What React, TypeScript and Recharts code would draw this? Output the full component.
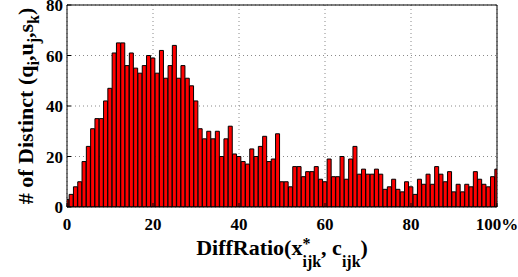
import React from 'react';
import { BarChart, Bar, XAxis, YAxis, CartesianGrid } from 'recharts';

const diffRatioBins = [
  0, 1, 2, 3, 4, 5, 6, 7, 8, 9, 10, 11, 12, 13, 14, 15, 16, 17, 18, 19,
  20, 21, 22, 23, 24, 25, 26, 27, 28, 29, 30, 31, 32, 33, 34, 35, 36, 37, 38, 39,
  40, 41, 42, 43, 44, 45, 46, 47, 48, 49, 50, 51, 52, 53, 54, 55, 56, 57, 58, 59,
  60, 61, 62, 63, 64, 65, 66, 67, 68, 69, 70, 71, 72, 73, 74, 75, 76, 77, 78, 79,
  80, 81, 82, 83, 84, 85, 86, 87, 88, 89, 90, 91, 92, 93, 94, 95, 96, 97, 98, 99, 100,
];

const distinctCounts = [
  3, 5, 8, 10, 18, 24, 31, 35, 35, 42, 47, 61, 65, 65, 56, 61, 55, 53, 56, 60,
  59, 53, 62, 51, 56, 64, 51, 56, 51, 48, 42, 31, 27, 30, 27, 30, 20, 27, 32, 21,
  20, 18, 17, 23, 20, 24, 28, 18, 19, 29, 10, 10, 8, 16, 16, 12, 14, 14, 16, 11,
  10, 19, 12, 12, 20, 11, 19, 24, 13, 15, 13, 13, 15, 13, 7, 8, 11, 7, 6, 10,
  8, 5, 11, 9, 13, 9, 16, 13, 10, 14, 6, 9, 6, 9, 8, 14, 11, 9, 8, 12, 15,
];

const xTicks = [0, 20, 40, 60, 80, 100];
const yTicks = [0, 20, 40, 60, 80];

const data = diffRatioBins.map((x, i) => ({ x, count: distinctCounts[i] }));

const FONT = '"Liberation Serif", "Times New Roman", Times, serif';

function XTitle(props: any) {
  const vb = props.viewBox || { x: 67, y: 207, width: 430, height: 70 };
  const cx = vb.x + vb.width / 2;
  const by = vb.y + 48;
  return (
    <text x={cx} y={by} textAnchor="middle" fontFamily={FONT} fontWeight="bold" fontSize={22} fill="#000">
      <tspan>DiffRatio(x</tspan>
      <tspan fontSize={16} dy={-6}>*</tspan>
      <tspan fontSize={16} dx={-8} dy={18}>ijk</tspan>
      <tspan dy={-12}>, c</tspan>
      <tspan fontSize={16} dy={12}>ijk</tspan>
      <tspan dy={-12}>)</tspan>
    </text>
  );
}

function YTitle(props: any) {
  const vb = props.viewBox || { x: 7, y: 5, width: 60, height: 202 };
  const cx = vb.x + 26;
  const cy = vb.y + vb.height / 2;
  return (
    <text
      x={cx}
      y={cy}
      transform={`rotate(-90 ${cx} ${cy})`}
      textAnchor="middle"
      fontFamily={FONT}
      fontWeight="bold"
      fontSize={22}
      fill="#000"
    >
      <tspan># of Distinct (q</tspan>
      <tspan fontSize={16} dy={6}>i</tspan>
      <tspan dy={-6}>,u</tspan>
      <tspan fontSize={16} dy={6}>j</tspan>
      <tspan dy={-6}>,s</tspan>
      <tspan fontSize={16} dy={6}>k</tspan>
      <tspan dy={-6}>)</tspan>
    </text>
  );
}

const tickStyle = { fill: '#000', fontSize: 17, fontWeight: 'bold', fontFamily: FONT };

export default function App() {
  return (
    <div style={{ position: 'absolute', left: 0, top: 0, width: 518, height: 277, background: '#fff' }}>
      <BarChart
        width={518}
        height={277}
        data={data}
        margin={{ top: 4, right: 20, bottom: 0, left: 7 }}
        barCategoryGap={0}
        barGap={0}
      >
        <CartesianGrid stroke="#8a8a8a" strokeDasharray="1 3" />
        <XAxis
          dataKey="x"
          type="number"
          domain={[0, 100]}
          ticks={xTicks}
          interval={0}
          allowDataOverflow
          height={70}
          tickSize={-4}
          tickMargin={15}
          stroke="#000"
          tick={tickStyle}
          tickFormatter={(v: number) => (v === 100 ? '100%' : String(v))}
          label={<XTitle />}
        />
        <XAxis
          xAxisId="top"
          orientation="top"
          dataKey="x"
          type="number"
          domain={[0, 100]}
          ticks={xTicks}
          interval={0}
          allowDataOverflow
          height={1}
          tickSize={-4}
          tick={false}
          stroke="#000"
        />
        <YAxis
          type="number"
          domain={[0, 80]}
          ticks={yTicks}
          interval={0}
          allowDataOverflow
          width={60}
          tickSize={-4}
          tickMargin={8}
          stroke="#000"
          tick={tickStyle}
          label={<YTitle />}
        />
        <YAxis
          yAxisId="right"
          orientation="right"
          type="number"
          domain={[0, 80]}
          ticks={yTicks}
          interval={0}
          allowDataOverflow
          width={1}
          tickSize={-4}
          tick={false}
          stroke="#000"
        />
        <Bar dataKey="count" fill="#ff0000" stroke="#000" strokeWidth={1} isAnimationActive={false} />
      </BarChart>
    </div>
  );
}
